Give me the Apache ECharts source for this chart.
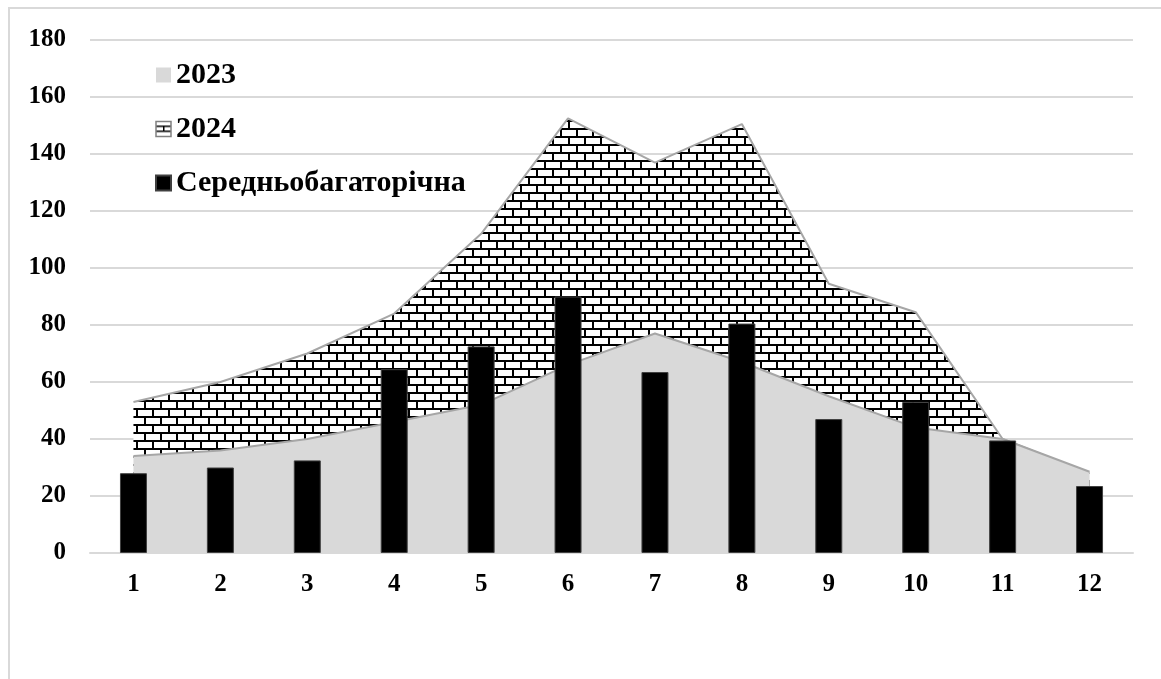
<!DOCTYPE html>
<html>
<head>
<meta charset="utf-8">
<script src="https://cdn.jsdelivr.net/npm/echarts@6/dist/echarts.min.js"></script>
<style>
    html, body { margin: 0; padding: 0; background: #fff; }
</style>
</head>
<body>
<div style="width:1161px;height:679px;" id="flow-chart"></div>
<script>
var months = ['1', '2', '3', '4', '5', '6', '7', '8', '9', '10', '11', '12'];
var data2023 = [34, 36, 40, 46, 52, 66, 77, 67, 55, 44, 40, 28.5];
var data2024 = [53, 60, 70, 84, 112, 152.5, 137, 150.5, 94.5, 84.5, 40, 28];
var dataAvg = [28, 30, 32.5, 64.5, 72.5, 90, 63.5, 80.5, 47, 53, 39.5, 23.5];
var yTicks = [0, 20, 40, 60, 80, 100, 120, 140, 160, 180];

// brick texture for 2024
function brickPattern() {
    var c = document.createElement('canvas');
    c.width = 16;
    c.height = 16;
    var ctx = c.getContext('2d');
    ctx.fillStyle = '#fff';
    ctx.fillRect(0, 0, 16, 16);
    ctx.fillStyle = '#000';
    ctx.fillRect(0, 0, 16, 2);
    ctx.fillRect(0, 8, 16, 2);
    ctx.fillRect(0, 0, 2, 8);
    ctx.fillRect(8, 8, 2, 8);
    return c;
}

// small icon for the legend (box with a cross line)
function legendBrick() {
    var c = document.createElement('canvas');
    c.width = 15;
    c.height = 15;
    var ctx = c.getContext('2d');
    ctx.fillStyle = '#fff';
    ctx.fillRect(0, 0, 15, 15);
    ctx.fillStyle = '#000';
    ctx.fillRect(0, 4, 15, 1.5);
    ctx.fillRect(0, 9, 15, 1.5);
    ctx.fillRect(7, 4, 1.5, 5);
    return c;
}

var chart = echarts.init(document.getElementById('flow-chart'));
var font = 'Liberation Serif, Times New Roman, serif';
var option = {
    animation: false,
    textStyle: { fontFamily: font },
    graphic: [
        {
            type: 'rect',
            shape: { x: 9, y: 8, width: 1200, height: 720 },
            style: { fill: 'none', stroke: '#d9d9d9', lineWidth: 2 },
            silent: true
        }
    ],
    legend: {
        orient: 'vertical',
        left: 150,
        top: 55,
        itemWidth: 15,
        itemHeight: 15,
        itemGap: 24,
        textStyle: {
            fontFamily: font,
            fontSize: 30,
            fontWeight: 'bold',
            color: '#000'
        },
        data: [
            { name: '2023', icon: 'rect' },
            {
                name: '2024',
                icon: 'rect',
                itemStyle: {
                    color: { image: legendBrick(), repeat: 'no-repeat' },
                    borderColor: '#808080',
                    borderWidth: 1.5
                }
            },
            { name: 'Середньобагаторічна', icon: 'rect' }
        ]
    },
    grid: {
        left: 90,
        right: 28,
        top: 40,
        bottom: 126
    },
    xAxis: {
        type: 'category',
        data: months,
        boundaryGap: true,
        axisTick: { show: false },
        axisLine: { lineStyle: { color: '#d9d9d9', width: 2 } },
        axisLabel: {
            margin: 19,
            color: '#000',
            fontFamily: font,
            fontSize: 25,
            fontWeight: 'bold'
        }
    },
    yAxis: {
        type: 'value',
        min: yTicks[0],
        max: yTicks[yTicks.length - 1],
        interval: 20,
        axisLine: { show: false },
        axisTick: { show: false },
        splitLine: { lineStyle: { color: '#d9d9d9', width: 2 } },
        axisLabel: {
            margin: 24,
            color: '#000',
            fontFamily: font,
            fontSize: 25,
            fontWeight: 'bold'
        }
    },
    series: [
        {
            name: '2024',
            type: 'line',
            data: data2024,
            symbol: 'none',
            lineStyle: { color: '#a6a6a6', width: 2 },
            itemStyle: { color: { image: brickPattern(), repeat: 'repeat' } },
            areaStyle: {
                opacity: 1,
                color: { image: brickPattern(), repeat: 'repeat' }
            },
            z: 1
        },
        {
            name: '2023',
            type: 'line',
            data: data2023,
            symbol: 'none',
            lineStyle: { color: '#a6a6a6', width: 2 },
            itemStyle: { color: '#d9d9d9' },
            areaStyle: { opacity: 1, color: '#d9d9d9' },
            z: 2
        },
        {
            name: 'Середньобагаторічна',
            type: 'bar',
            data: dataAvg,
            barWidth: 27,
            itemStyle: { color: '#000', borderColor: '#404040', borderWidth: 1 },
            z: 3
        }
    ]
};

chart.setOption(option);
window.addEventListener('resize', function () {
    chart.resize();
});
</script>
</body>
</html>
